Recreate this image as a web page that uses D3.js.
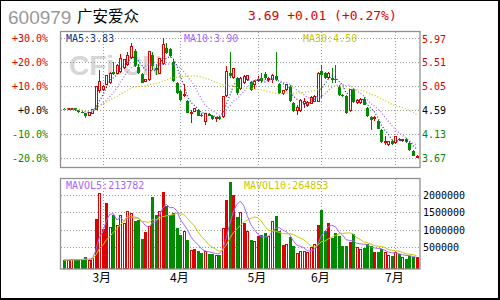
<!DOCTYPE html>
<html>
<head>
<meta charset="utf-8" />
<title>600979 广安爱众</title>
<script src="https://cdn.jsdelivr.net/npm/d3@7/dist/d3.min.js"></script>
<style>
  body { margin: 0; background: #fff; }
  svg text { font-family: "DejaVu Sans Mono", monospace; }
</style>
</head>
<body>
<div id="chart"></div>
<script>
// daily candles
var openP  = [4.61,4.59,4.60,4.62,4.58,4.56,4.53,4.48,4.53,4.59, 4.96,4.99,5.08,5.11,5.31,5.30,5.33,5.40,5.46,5.59,
              5.73,5.42,5.28,5.14,5.17,5.65,5.40,5.30,5.49,5.78, 5.76,5.52,5.11,4.95,4.86,4.76,4.54,4.56,4.58,4.50,
              4.36,4.51,4.48,4.42,4.45,4.46,4.86,5.30,5.22,5.20, 5.01,5.11,5.18,5.12,5.07,5.16,5.20,5.28,5.18,5.17,
              5.24,5.08,4.90,4.99,5.04,4.73,4.57,4.58,4.72,4.67, 4.72,4.76,4.76,5.33,5.30,5.21,5.20,5.18,5.04,4.88,
              4.86,4.57,4.99,4.74,4.73,4.80,4.63,4.46,4.44,4.37, 4.21,3.96,3.93,3.99,3.96,4.04,4.00,4.03,3.96,3.80,3.68];
var highP  = [4.62,4.62,4.63,4.63,4.59,4.58,4.54,4.56,4.60,5.05, 5.36,5.06,5.27,5.32,5.52,5.47,5.67,5.57,5.70,5.87,
              5.76,5.48,5.30,5.19,5.73,5.70,5.48,5.59,5.97,5.88, 5.78,5.56,5.13,4.98,5.08,4.78,4.59,4.62,4.60,4.53,
              4.53,4.53,4.49,4.45,4.47,4.86,5.44,5.71,5.40,5.23, 5.23,5.27,5.27,5.14,5.16,5.24,5.30,5.32,5.23,5.28,
              5.71,5.10,4.98,5.09,5.07,4.75,4.68,4.80,4.82,4.76, 4.85,4.88,5.32,5.46,5.32,5.32,5.40,5.46,5.06,4.90,
              4.88,4.99,5.01,4.80,4.82,4.84,4.64,4.47,4.47,4.40, 4.23,4.09,4.00,4.01,4.08,4.06,4.04,4.05,3.98,3.82,3.72];
var lowP   = [4.60,4.58,4.59,4.57,4.54,4.53,4.43,4.47,4.52,4.58, 4.92,4.96,5.06,5.08,5.26,5.28,5.30,5.38,5.44,5.56,
              5.41,5.29,5.10,5.12,5.15,5.35,5.26,5.28,5.46,5.66, 5.60,5.13,4.90,4.77,4.84,4.53,4.34,4.55,4.48,4.46,
              4.31,4.47,4.40,4.36,4.39,4.44,4.83,5.21,5.18,4.88, 4.98,5.08,5.15,4.95,5.00,5.13,5.10,5.16,5.12,5.10,
              5.15,4.90,4.88,4.96,4.74,4.55,4.50,4.56,4.63,4.65, 4.70,4.74,4.74,4.82,5.19,5.19,5.11,5.10,4.86,4.84,
              4.52,4.55,4.73,4.70,4.71,4.68,4.46,4.21,4.37,4.22, 3.96,3.92,3.90,3.92,3.94,4.00,3.98,3.96,3.81,3.70,3.66];
var closeP = [4.60,4.61,4.62,4.58,4.55,4.54,4.47,4.55,4.59,5.04, 5.14,5.05,5.25,5.30,5.29,5.44,5.57,5.55,5.63,5.81,
              5.43,5.30,5.11,5.17,5.71,5.43,5.36,5.57,5.84,5.68, 5.62,5.14,4.92,4.79,4.88,4.54,4.55,4.61,4.48,4.49,
              4.52,4.48,4.41,4.44,4.42,4.85,5.33,5.25,5.38,4.92, 5.20,5.24,5.25,4.98,5.13,5.18,5.14,5.20,5.19,5.26,
              5.16,4.92,4.97,5.08,4.76,4.57,4.63,4.77,4.76,4.74, 4.82,4.85,5.30,5.27,5.21,5.30,5.16,5.16,4.88,4.85,
              4.54,4.98,4.74,4.78,4.80,4.69,4.47,4.39,4.45,4.23, 3.97,3.98,3.99,3.93,4.07,4.01,4.03,3.97,3.82,3.71,3.69];
var volume = [134000,134000,150000,150000,150000,150000,220000,134000,172000,1320000,
              2050000,1020000,1760000,1080000,1420000,1130000,1400000,1180000,1540000,1480000,
              1250000,1270000,750000,940000,1110000,1940000,1420000,1540000,2090000,1690000,
              1420000,1490000,1060000,850000,940000,710000,420000,440000,390000,330000,
              390000,310000,310000,270000,270000,1030000,1860000,2380000,1990000,1380000,
              1510000,1210000,940000,710000,680000,820000,840000,920000,820000,1230000,
              1400000,970000,570000,580000,800000,540000,330000,390000,390000,360000,
              490000,580000,1130000,1570000,970000,1210000,780000,920000,820000,540000,
              540000,650000,870000,490000,440000,490000,580000,540000,360000,360000,
              460000,360000,270000,260000,360000,320000,220000,170000,240000,220000,220000];
// red volume bars drawn filled instead of hollow
var solidRed = [9,11,12,23,28,37,46,48,51,55,62,72,75,81,88,100];

var basePrice = 4.59;
var pctTicks = [30, 20, 10, 0, -10, -20];
var pctLabels = ["+30.0%", "+20.0%", "+10.0%", "+0.0%", "-10.0%", "-20.0%"];
var priceLabels = ["5.97", "5.51", "5.05", "4.59", "4.13", "3.67"];
var volTicks = [2000000, 1500000, 1000000, 500000];
var volLabels = ["2000000", "1500000", "1000000", "500000"];
var monthLabels = ["3月", "4月", "5月", "6月", "7月"];
var monthStart = [11, 33, 55, 73, 94];
var maLegend = ["MA5:3.83", "MA10:3.90", "MA30:4.50"];
var volLegend = ["MAVOL5:213782", "MAVOL10:264853"];

var red = "#dd0000", green = "#008a00", gridC = "#999";
var maColors = ["#0a3c8c", "#a566ff", "#c8c800"];

var svg = d3.select("#chart").append("svg")
    .attr("width", 500).attr("height", 300);

svg.append("rect").attr("width", 500).attr("height", 300).attr("fill", "#fff");

var n = closeP.length;
var x = d3.scalePoint().domain(d3.range(n)).range([64, 416.5]);
var y = d3.scaleLinear().domain([basePrice * 0.8, basePrice * 1.3]).range([157.7, 38.3]);
var yv = d3.scaleLinear().domain([0, 2000000]).range([264.7, 195]);

function movingAvg(arr, k) {
    return arr.map(function (d, i) {
        return d3.mean(arr.slice(Math.max(0, i - k + 1), i + 1));
    });
}

// header
svg.append("text").attr("x", 8).attr("y", 23.5)
    .style("font-family", "Liberation Sans, sans-serif").attr("font-size", 19)
    .attr("fill", "#999").text("600979");
svg.append("text").attr("x", 77).attr("y", 21.5)
    .style("font-family", "Noto Sans CJK SC, sans-serif").attr("font-size", 15.5)
    .attr("fill", "#000").text("广安爱众");
svg.append("text").attr("x", 248).attr("y", 19.5).attr("font-size", 13)
    .attr("fill", red).text("3.69 +0.01 (+0.27%)");

// watermark
svg.append("text").attr("x", 69).attr("y", 75)
    .style("font-family", "Liberation Sans, sans-serif").attr("font-size", 28)
    .attr("font-weight", "bold").attr("fill", "#d6d6d6").text("CFi.CN");

// grid
var grid = svg.append("g").attr("stroke", gridC).attr("stroke-dasharray", "1,2")
    .attr("shape-rendering", "crispEdges");
pctTicks.forEach(function (p) {
    var gy = Math.round(y(basePrice * (1 + p / 100))) + 0.5;
    grid.append("line").attr("x1", 61).attr("x2", 420).attr("y1", gy).attr("y2", gy);
});
volTicks.forEach(function (v) {
    var gy = Math.round(yv(v)) + 0.5;
    grid.append("line").attr("x1", 61).attr("x2", 420).attr("y1", gy).attr("y2", gy);
});
monthStart.forEach(function (i) {
    var gx = Math.round(x(i)) + 0.5;
    grid.append("line").attr("x1", gx).attr("x2", gx).attr("y1", 32).attr("y2", 168);
    grid.append("line").attr("x1", gx).attr("x2", gx).attr("y1", 179).attr("y2", 269);
});

// axis labels
pctTicks.forEach(function (p, k) {
    var gy = y(basePrice * (1 + p / 100));
    var c = p > 0 ? red : (p < 0 ? green : "#000");
    svg.append("text").attr("x", 48).attr("y", gy + 4).attr("text-anchor", "end")
        .attr("font-size", 10).attr("fill", c).text(pctLabels[k]);
    svg.append("text").attr("x", 422).attr("y", gy + 4.2)
        .attr("font-size", 10).attr("fill", c).text(priceLabels[k]);
});
volTicks.forEach(function (v, k) {
    svg.append("text").attr("x", 423).attr("y", yv(v) + 3.8)
        .attr("font-size", 10).attr("fill", "#000").text(volLabels[k]);
});
monthLabels.forEach(function (m, k) {
    svg.append("text").attr("x", x(monthStart[k]) - 1).attr("y", 282)
        .attr("text-anchor", "middle")
        .style("font-family", "Noto Sans CJK SC, sans-serif").attr("font-size", 12)
        .attr("fill", "#000").text(m);
});

// candles
var up = d3.range(n).map(function (i) { return closeP[i] >= openP[i]; });
var cg = svg.append("g").attr("shape-rendering", "crispEdges");
d3.range(n).forEach(function (i) {
    var cx = Math.round(x(i)) + 0.5;
    var c = up[i] ? red : green;
    cg.append("line").attr("x1", cx).attr("x2", cx)
        .attr("y1", y(highP[i])).attr("y2", y(lowP[i])).attr("stroke", c);
    var top = y(Math.max(openP[i], closeP[i]));
    var h = Math.max(1, y(Math.min(openP[i], closeP[i])) - top);
    if (up[i]) {
        cg.append("rect").attr("x", cx - 1).attr("y", top).attr("width", 2).attr("height", h)
            .attr("fill", "#fff").attr("stroke", red);
    } else {
        cg.append("rect").attr("x", cx - 1.5).attr("y", top).attr("width", 3).attr("height", h)
            .attr("fill", green);
    }
});

// price moving averages
[5, 10, 30].forEach(function (k, j) {
    var ma = movingAvg(closeP, k);
    svg.append("path").datum(ma)
        .attr("d", d3.line().x(function (d, i) { return x(i); }).y(function (d) { return y(d); }))
        .attr("fill", "none").attr("stroke", maColors[j]).attr("stroke-width", 1.2)
        .attr("stroke-dasharray", "1,2");
});

// volume bars
var vg = svg.append("g").attr("shape-rendering", "crispEdges");
d3.range(n).forEach(function (i) {
    var cx = Math.round(x(i)) + 0.5;
    var top = yv(volume[i]);
    var h = 268.5 - top;
    if (up[i] && solidRed.indexOf(i) < 0) {
        vg.append("rect").attr("x", cx - 1).attr("y", top).attr("width", 2).attr("height", h)
            .attr("fill", "#fff").attr("stroke", red);
    } else {
        vg.append("rect").attr("x", cx - 1.5).attr("y", top).attr("width", 3).attr("height", h)
            .attr("fill", up[i] ? red : green);
    }
});

// volume moving averages
[5, 10].forEach(function (k, j) {
    var ma = movingAvg(volume, k);
    svg.append("path").datum(ma)
        .attr("d", d3.line().x(function (d, i) { return x(i); }).y(function (d) { return yv(d); }))
        .attr("fill", "none").attr("stroke", j == 0 ? maColors[1] : maColors[2])
        .attr("stroke-width", 1);
});

// panel frames
svg.append("rect").attr("x", 60.5).attr("y", 31.5).attr("width", 359.5).attr("height", 136)
    .attr("fill", "none").attr("stroke", "#909090").attr("stroke-width", 1.3);
svg.append("rect").attr("x", 60.5).attr("y", 178.5).attr("width", 359.5).attr("height", 90.5)
    .attr("fill", "none").attr("stroke", "#909090").attr("stroke-width", 1.3);

// legends
var lx = [66, 184, 303];
maLegend.forEach(function (t, j) {
    svg.append("text").attr("x", lx[j]).attr("y", 42.3).attr("font-size", 10)
        .attr("fill", maColors[j]).text(t);
});
svg.append("text").attr("x", 66).attr("y", 189).attr("font-size", 10)
    .attr("fill", maColors[1]).text(volLegend[0]);
svg.append("text").attr("x", 244).attr("y", 189).attr("font-size", 10)
    .attr("fill", maColors[2]).text(volLegend[1]);

// outer frame
svg.append("rect").attr("x", 0).attr("y", 0).attr("width", 499).attr("height", 299)
    .attr("fill", "none").attr("stroke", "#000").attr("stroke-width", 2);
</script>
</body>
</html>
